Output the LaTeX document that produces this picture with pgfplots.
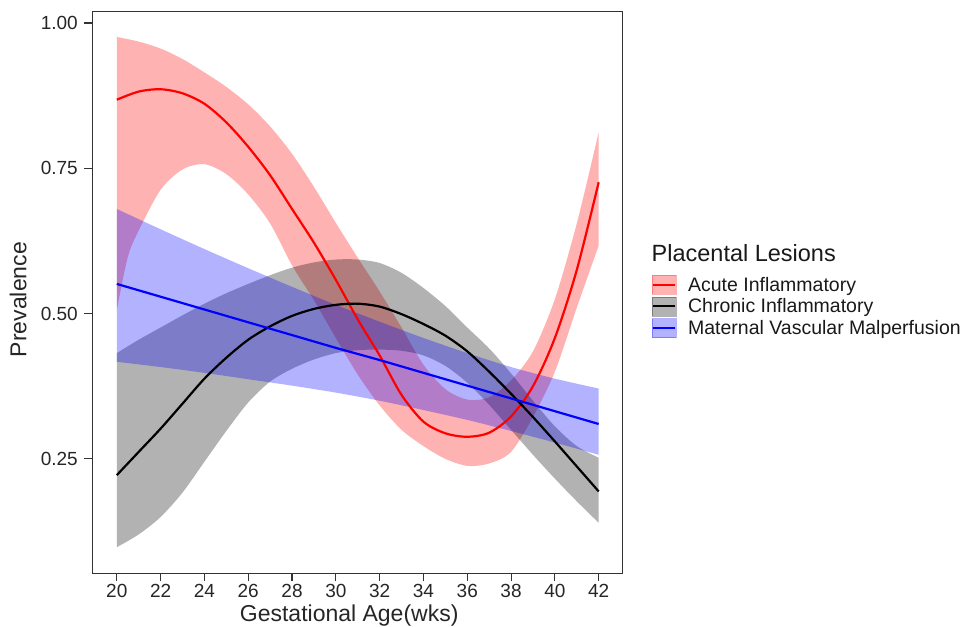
\documentclass[border=0pt]{standalone}
\usepackage{fontspec}
\setmainfont{Liberation Sans}
\usepackage{pgfplots}
\pgfplotsset{compat=1.18}
\usepgfplotslibrary{fillbetween}

\definecolor{axgray}{HTML}{333333}

\begin{document}
\begin{tikzpicture}
\begin{axis}[
  scale only axis, width=530pt, height=561.8pt,
  xmin=18.88, xmax=43.07, ymin=0.0534, ymax=1.0198,
  xtick={20,22,...,42}, ytick={0.25,0.5,0.75,1},
  yticklabel style={xshift=-3pt, /pgf/number format/.cd, fixed, fixed zerofill, precision=2},
  /pgf/number format/assume math mode=true,
  xtick pos=left, ytick pos=left,
  tick align=outside, major tick length=8pt,
  tick style={axgray, line width=1.1pt},
  axis line style={axgray, line width=1.2pt},
  ticklabel style={font=\fontsize{19}{21}\selectfont, text=black!85},
  xlabel={Gestational Age(wks)}, ylabel={Prevalence},
  label style={font=\fontsize{23}{26}\selectfont, text=black!85},
  xlabel style={xshift=-8pt},
  ylabel style={at={(axis description cs:-0.14,0.487)}, anchor=center},
  legend cell align=left,
  legend style={at={(axis description cs:1.0555,0.531)}, anchor=north west,
    draw=none, fill=none, inner sep=0pt, row sep=2.3pt,
    font=\fontsize{19.5}{21}\selectfont,
    nodes={inner sep=1pt, text=black!90}},
]
% confidence bands
\addplot[name path=ru, draw=none, smooth, forget plot] coordinates {
(20,0.976) (21,0.968) (22,0.956) (23,0.938) (24,0.915) (25,0.890) (26,0.860)
(27,0.822) (28,0.775) (29,0.718) (30,0.656) (31,0.596) (32,0.538) (33,0.476)
(34,0.412) (35,0.370) (36,0.352) (37,0.356) (38,0.385) (39,0.435) (40,0.525)
(41,0.655) (42,0.812)};
\addplot[name path=rl, draw=none, smooth, forget plot] coordinates {
(20,0.506) (20.5,0.597) (21,0.643) (22,0.713) (23,0.748) (24,0.757) (25,0.740)
(26,0.705) (27,0.655) (28,0.583) (29,0.523) (30,0.458) (31,0.395) (32,0.342)
(33,0.300) (34,0.272) (35,0.250) (36,0.238) (37,0.242) (38,0.262) (39,0.322)
(40,0.400) (41,0.510) (42,0.617)};
\addplot[red, fill opacity=0.3, draw=none, forget plot] fill between[of=ru and rl];

\addplot[name path=gu, draw=none, smooth, forget plot] coordinates {
(20,0.432) (21,0.455) (22,0.476) (23,0.497) (24,0.517) (25,0.535) (26,0.551)
(27,0.566) (28,0.579) (29,0.588) (30,0.593) (31,0.593) (32,0.587) (33,0.570)
(34,0.544) (35,0.513) (36,0.476) (37,0.440) (38,0.397) (39,0.350) (40,0.306)
(41,0.272) (42,0.252)};
\addplot[name path=gl, draw=none, smooth, forget plot] coordinates {
(20,0.098) (21,0.120) (22,0.150) (23,0.192) (24,0.245) (25,0.298) (26,0.347)
(27,0.383) (28,0.405) (29,0.421) (30,0.432) (31,0.437) (32,0.438) (33,0.436)
(34,0.428) (35,0.410) (36,0.381) (37,0.343) (38,0.300) (39,0.257) (40,0.216)
(41,0.177) (42,0.140)};
\addplot[black, fill opacity=0.3, draw=none, forget plot] fill between[of=gu and gl];

\addplot[name path=bu, draw=none, smooth, forget plot] coordinates {
(20,0.680) (22,0.645) (24,0.611) (26,0.578) (28,0.546) (30,0.515) (32,0.486)
(34,0.458) (36,0.432) (38,0.408) (40,0.388) (42,0.371)};
\addplot[name path=bl, draw=none, smooth, forget plot] coordinates {
(20,0.417) (22,0.408) (24,0.398) (26,0.387) (28,0.376) (30,0.364) (32,0.350)
(34,0.334) (36,0.317) (38,0.298) (40,0.278) (42,0.257)};
\addplot[blue, fill opacity=0.3, draw=none, forget plot] fill between[of=bu and bl];

% fitted lines
\addplot[red, line width=2.2pt, smooth, forget plot] coordinates {
(20,0.868) (21,0.882) (22,0.886) (23,0.879) (24,0.861) (25,0.829) (26,0.787)
(27,0.738) (28,0.680) (29,0.622) (30,0.558) (31,0.490) (32,0.428) (33,0.360)
(34,0.314) (35,0.294) (36,0.288) (37,0.295) (38,0.323) (39,0.375) (40,0.458)
(41,0.575) (42,0.726)};
\addplot[black, line width=2.2pt, smooth, forget plot] coordinates {
(20,0.222) (21,0.262) (22,0.302) (23,0.345) (24,0.388) (25,0.424) (26,0.455)
(27,0.478) (28,0.496) (29,0.508) (30,0.515) (31,0.517) (32,0.512) (33,0.499)
(34,0.482) (35,0.462) (36,0.435) (37,0.400) (38,0.362) (39,0.322) (40,0.280)
(41,0.237) (42,0.194)};
\addplot[blue, line width=2.2pt, smooth, forget plot] coordinates {
(20,0.551) (22,0.529) (24,0.507) (26,0.485) (28,0.463) (30,0.441) (32,0.420)
(34,0.398) (36,0.376) (38,0.354) (40,0.332) (42,0.310)};

\addlegendimage{legend image code/.code={
  \fill[red, opacity=0.3] (0pt,-9.5pt) rectangle (24pt,9.5pt);
  \draw[red, line width=2pt] (1pt,0pt) -- (23pt,0pt);
  \path (35pt,0pt);}}
\addlegendentry{Acute Inflammatory}
\addlegendimage{legend image code/.code={
  \fill[black, opacity=0.3] (0pt,-9.5pt) rectangle (24pt,9.5pt);
  \draw[black, line width=2pt] (1pt,0pt) -- (23pt,0pt);
  \path (35pt,0pt);}}
\addlegendentry{Chronic Inflammatory}
\addlegendimage{legend image code/.code={
  \fill[blue, opacity=0.3] (0pt,-9.5pt) rectangle (24pt,9.5pt);
  \draw[blue, line width=2pt] (1pt,0pt) -- (23pt,0pt);
  \path (35pt,0pt);}}
\addlegendentry{Maternal Vascular Malperfusion}
\end{axis}
\node[anchor=base west, font=\fontsize{23.5}{26}\selectfont, text=black!90, inner sep=0pt]
  at ([shift={(559.4pt,311.6pt)}]current axis.south west) {Placental Lesions};
\pgfresetboundingbox
\path[use as bounding box] ([shift={(-92.3pt,-53.7pt)}]current axis.south west)
  rectangle ([shift={(346pt,11.5pt)}]current axis.north east);
\end{tikzpicture}
\end{document}
